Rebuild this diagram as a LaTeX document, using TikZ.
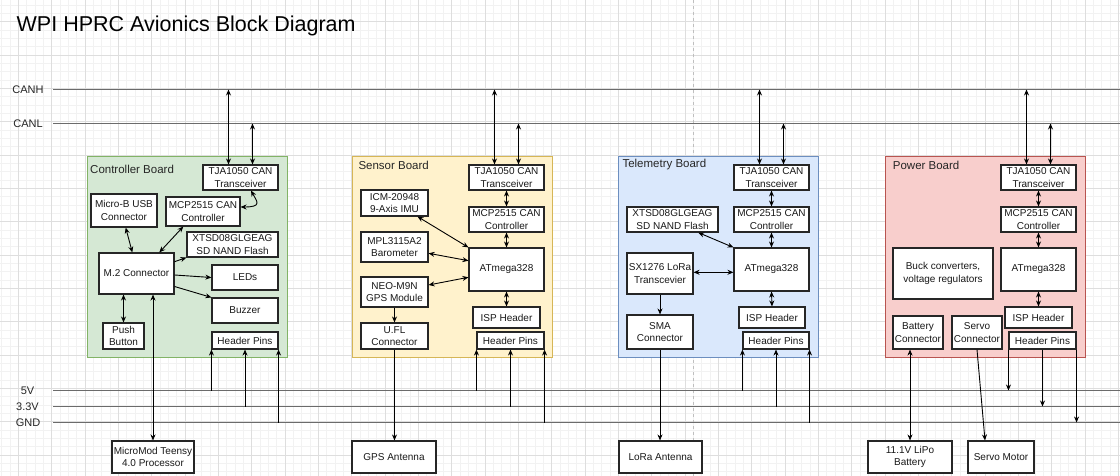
\documentclass[tikz,border=0pt]{standalone}
\usepackage{fontspec}
\setmainfont{Liberation Sans}
\usetikzlibrary{arrows.meta}

\definecolor{ctrlfill}{HTML}{D5E8D4}\definecolor{ctrldraw}{HTML}{82B366}
\definecolor{sensfill}{HTML}{FFF2CC}\definecolor{sensdraw}{HTML}{D6B656}
\definecolor{telefill}{HTML}{DAE8FC}\definecolor{teledraw}{HTML}{6C8EBF}
\definecolor{powrfill}{HTML}{F8CECC}\definecolor{powrdraw}{HTML}{B85450}

\tikzset{
  box/.style={draw=black!85, line width=1.1pt, fill=white, align=center,
    inner sep=1pt, font=\fontsize{10}{12.4}\selectfont, text=black!90},
  board/.style={line width=1pt, minimum width=200pt, minimum height=200pt, inner sep=0pt},
  boardlabel/.style={anchor=west, inner sep=0pt, font=\fontsize{11.5}{13}\selectfont, text=black!85},
  buslabel/.style={inner sep=0pt, font=\fontsize{11}{13}\selectfont, text=black!85},
  bus/.style={line width=1.6pt, draw=black!58},
  gridminor/.style={line width=0.5pt, draw=black!5},
  gridmajor/.style={line width=0.6pt, draw=black!13},
  conn/.style={line width=0.9pt, -{Stealth[length=6pt,width=5pt]}},
  biconn/.style={line width=0.9pt, {Stealth[length=6pt,width=5pt]}-{Stealth[length=6pt,width=5pt]}},
}

% \blockbox{name}{x1}{y1}{x2}{y2}{text}: a box given by its corners
\newcommand\blockbox[6]{%
  \node[box, minimum width={(#4-#2)*1pt}, minimum height={(#5-#3)*1pt}]
    (#1) at ({(#2+#4)/2},{(#3+#5)/2}) {#6};}

\begin{document}
\begin{tikzpicture}[x=1pt, y=-1pt]
\useasboundingbox (0,0) rectangle (1120,476);
\fill[white] (0,0) rectangle (1120,476);

% background grid
\foreach \i in {0,...,134} {\draw[gridminor] ({1.667+\i*8.3333},0) -- ++(0,476);}
\foreach \i in {0,...,56} {\draw[gridminor] (0,{5+\i*8.3333}) -- ++(1120,0);}
\foreach \i in {0,...,33} {\draw[gridmajor] ({18.333+\i*33.333},0) -- ++(0,476);}
\foreach \i in {0,...,14} {\draw[gridmajor] (0,{21.667+\i*33.333}) -- ++(1120,0);}
\draw[black!25, line width=0.8pt, dash pattern=on 3pt off 3pt] (693.3,0) -- (693.3,476);

% title
\node[anchor=base west, inner sep=0pt, font=\fontsize{21.5}{26}\selectfont] (title)
  at (16.5,31.3) {WPI HPRC Avionics Block Diagram};

% buses
\coordinate (canh) at (53,89.5);  \coordinate (canhR) at (1120,89.5);
\coordinate (canl) at (53,123.5); \coordinate (canlR) at (1120,123.5);
\coordinate (v5)   at (53,390.5); \coordinate (v5R)   at (1120,390.5);
\coordinate (v33)  at (53,406.5); \coordinate (v33R)  at (1120,406.5);
\coordinate (gnd)  at (53,422.5); \coordinate (gndR)  at (1120,422.5);
\draw[bus] (canh) -- (canhR);
\draw[bus] (canl) -- (canlR);
\draw[bus] (v5) -- (v5R);
\draw[bus] (v33) -- (v33R);
\draw[bus] (gnd) -- (gndR);
\node[buslabel] (lcanh) at (28,89.5) {CANH};
\node[buslabel] (lcanl) at (28,123.5) {CANL};
\node[buslabel] (l5v)   at (27.5,390.5) {5V};
\node[buslabel] (l33v)  at (27.5,406.5) {3.3V};
\node[buslabel] (lgnd)  at (28,422.5) {GND};

% boards
\node[board, fill=ctrlfill, draw=ctrldraw] (ctrlBoard) at (187,257) {};
\node[board, fill=sensfill, draw=sensdraw] (sensBoard) at (452,257) {};
\node[board, fill=telefill, draw=teledraw] (teleBoard) at (718,257) {};
\node[board, fill=powrfill, draw=powrdraw] (powrBoard) at (985,257) {};
\node[boardlabel] (ctrlLabel) at (90,169) {Controller Board};
\node[boardlabel] (sensLabel) at (358.3,165) {Sensor Board};
\node[boardlabel] (teleLabel) at (622.3,165) {Telemetry Board};
\node[boardlabel] (powrLabel) at (892.7,165) {Power Board};

% controller board
\blockbox{tjaC}{203}{165}{278}{190}{TJA1050 CAN\\Transceiver}
\blockbox{usb}{91}{194}{157}{227}{Micro-B USB\\Connector}
\blockbox{mcpC}{166}{197}{240}{226}{MCP2515 CAN\\Controller}
\blockbox{xtsdC}{187}{232}{278}{257}{XTSD08GLGEAG\\SD NAND Flash}
\blockbox{m2}{99}{253}{174}{294}{M.2 Connector}
\blockbox{leds}{212}{265}{278}{290}{LEDs}
\blockbox{buzz}{212}{298}{278}{323}{Buzzer}
\blockbox{hpC}{212}{332}{278}{349}{Header Pins}
\blockbox{push}{103}{323}{144}{349}{Push\\Button}
\blockbox{teensy}{112}{441}{194}{473}{MicroMod Teensy\\4.0 Processor}

% sensor board
\blockbox{tjaS}{469}{165}{544}{190}{TJA1050 CAN\\Transceiver}
\blockbox{mcpS}{469}{207}{544}{232}{MCP2515 CAN\\Controller}
\blockbox{atS}{469}{248}{544}{291}{ATmega328}
\blockbox{ispS}{473}{307}{540}{328}{ISP Header}
\blockbox{hpS}{477}{332}{544}{349}{Header Pins}
\blockbox{icm}{361}{190}{428}{216}{ICM-20948\\9-Axis IMU}
\blockbox{mpl}{361}{232}{428}{262}{MPL3115A2\\Barometer}
\blockbox{neo}{361}{277}{428}{307}{NEO-M9N\\GPS Module}
\blockbox{ufl}{361}{323}{428}{349}{U.FL\\Connector}
\blockbox{gps}{352}{441}{436}{473}{GPS Antenna}

% telemetry board
\blockbox{tjaT}{734}{165}{809}{190}{TJA1050 CAN\\Transceiver}
\blockbox{mcpT}{734}{207}{809}{232}{MCP2515 CAN\\Controller}
\blockbox{atT}{734}{248}{809}{291}{ATmega328}
\blockbox{ispT}{739}{307}{805}{328}{ISP Header}
\blockbox{hpT}{743}{332}{809}{349}{Header Pins}
\blockbox{xtsdT}{627}{207}{718}{232}{XTSD08GLGEAG\\SD NAND Flash}
\blockbox{sx}{627}{253}{693}{294}{SX1276 LoRa\\Transcevier}
\blockbox{sma}{627}{315}{693}{349}{SMA\\Connector}
\blockbox{lora}{619}{441}{702}{473}{LoRa Antenna}

% power board
\blockbox{tjaP}{1001}{165}{1076}{190}{TJA1050 CAN\\Transceiver}
\blockbox{mcpP}{1001}{207}{1076}{232}{MCP2515 CAN\\Controller}
\blockbox{atP}{1001}{248}{1076}{291}{ATmega328}
\blockbox{ispP}{1005}{307}{1072}{328}{ISP Header}
\blockbox{hpP}{1009}{332}{1076}{349}{Header Pins}
\blockbox{buck}{893}{248}{993}{299}{Buck converters,\\voltage regulators}
\blockbox{batc}{893}{316}{943}{349}{Battery\\Connector}
\blockbox{servoc}{952}{316}{1002}{349}{Servo\\Connector}
\blockbox{lipo}{868}{441}{952}{473}{11.1V LiPo\\Battery}
\blockbox{servom}{968}{441}{1034}{473}{Servo Motor}

% CAN bus taps
\foreach \t in {tjaC,tjaS,tjaT,tjaP} {
  \draw[biconn] ([xshift=-12pt]\t.north) -- ([xshift=-12pt]\t.north |- canh);
  \draw[biconn] ([xshift=12pt]\t.north) -- ([xshift=12pt]\t.north |- canl);
}

% controller board links
\draw[biconn] ([yshift=4.5pt]mcpC.east) .. controls +(22,0) and +(6,11) .. ([xshift=10.5pt]tjaC.south);
\draw[biconn] ([xshift=1.7pt]usb.south) -- ([xshift=-4.2pt]m2.north);
\draw[biconn] ([xshift=-19.7pt]mcpC.south) -- ([xshift=22.8pt]m2.north);
\draw[conn] ([yshift=11.8pt]m2.east) -- (xtsdC.south west);
\draw[conn] ([yshift=-1.5pt]m2.east) -- (leds.west);
\draw[conn] ([yshift=-13pt]m2.east) -- (buzz.north west);
\draw[biconn] (push.north) -- (push.north |- m2.south);
\draw[biconn] (teensy.north) -- (teensy.north |- m2.south);

% sensor board links
\draw[biconn] (tjaS.south) -- (mcpS.north);
\draw[biconn] (mcpS.south) -- (atS.north);
\draw[biconn] (atS.south) -- (ispS.north);
\draw[biconn] ([xshift=23pt]icm.south) -- (atS.north west);
\draw[biconn] ([yshift=-6.3pt]mpl.east) -- ([yshift=8.8pt]atS.west);
\draw[biconn] ([yshift=7pt]neo.east) -- ([yshift=-7.8pt]atS.west);
\draw[conn] (neo.south) -- (ufl.north);
\draw[conn] (ufl.south) -- (ufl.south |- gps.north);

% telemetry board links
\draw[biconn] (tjaT.south) -- (mcpT.north);
\draw[biconn] (mcpT.south) -- (atT.north);
\draw[biconn] (atT.south) -- (ispT.north);
\draw[biconn] ([xshift=25.8pt]xtsdT.south) -- (atT.north west);
\draw[biconn] ([yshift=1.2pt]sx.east) -- ([yshift=1.2pt]sx.east -| atT.west);
\draw[conn] (sx.south) -- (sma.north);
\draw[conn] (sma.south) -- (sma.south |- lora.north);

% power board links
\draw[biconn] (tjaP.south) -- (mcpP.north);
\draw[biconn] (mcpP.south) -- (atP.north);
\draw[biconn] (atP.south) -- (ispP.north);
\draw[biconn] (lipo.north) -- (lipo.north |- batc.south);
\draw[conn] (servoc.south) -- ([xshift=-16pt]servom.north);

% supply rails to header pins
\foreach \h in {hpC,hpS,hpT} {
  \draw[conn] (\h.south west |- v5) -- (\h.south west);
  \draw[conn] (\h.south |- v33) -- (\h.south);
  \draw[conn] (\h.south east |- gnd) -- (\h.south east);
}
\draw[conn] (hpP.south west) -- (hpP.south west |- v5);
\draw[conn] (hpP.south) -- (hpP.south |- v33);
\draw[conn] (hpP.south east) -- (hpP.south east |- gnd);
\end{tikzpicture}
\end{document}
